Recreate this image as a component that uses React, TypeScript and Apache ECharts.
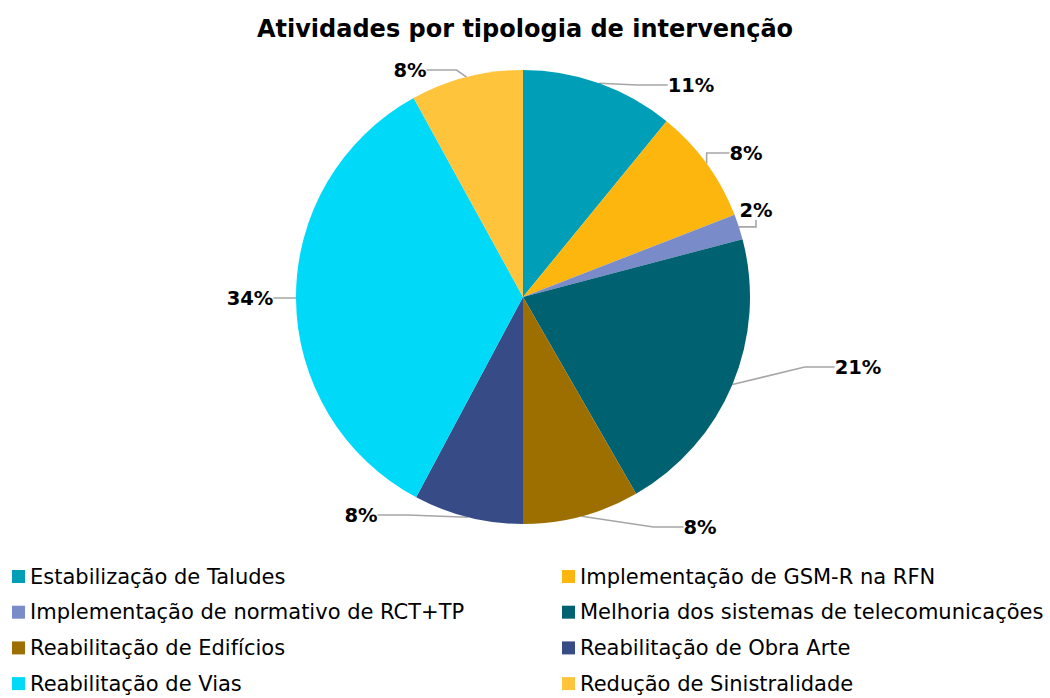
import React, { useEffect, useRef } from "react";
import * as echarts from "echarts";

const categories = [
  "Estabilização de Taludes",
  "Implementação de GSM-R na RFN",
  "Implementação de normativo de RCT+TP",
  "Melhoria dos sistemas de telecomunicações",
  "Reabilitação de Edifícios",
  "Reabilitação de Obra Arte",
  "Reabilitação de Vias",
  "Redução de Sinistralidade",
];
const values = [10.9, 8.2, 1.8, 20.8, 8.3, 7.8, 34.2, 8.0];
const colors = ["#009FB7", "#FDB60D", "#7A8BC9", "#006170", "#9C6F00", "#374C86", "#00D9F7", "#FDC43C"];
// label centres (layout only)
const labelPos: [number, number][] = [
  [691, 85], [746, 153], [756, 210], [858, 367], [700, 527], [361, 515], [250, 298], [410, 70],
];

const FONT = "Tahoma, 'DejaVu Sans', Verdana, sans-serif";

export default function App() {
  const ref = useRef<HTMLDivElement>(null);
  useEffect(() => {
    if (!ref.current) return;
    const chart = echarts.init(ref.current, null, { renderer: "svg" });
    const data = categories.map((name, i) => ({ name, value: values[i], itemStyle: { color: colors[i] } }));
    const legendBase = {
      orient: "vertical",
      top: 566,
      height: 132,
      padding: 0,
      itemWidth: 13,
      itemHeight: 13,
      itemGap: 14.7,
      icon: "rect",
      textStyle: { fontFamily: FONT, fontSize: 21, color: "#000" },
      selectedMode: false,
    };
    chart.setOption({
      animation: false,
      backgroundColor: "#ffffff",
      title: {
        text: "Atividades por tipologia de intervenção",
        left: "center",
        top: 12,
        textStyle: { fontFamily: FONT, fontSize: 24, fontWeight: "bold", color: "#000" },
      },
      legend: [
        { ...legendBase, left: 12, data: [categories[0], categories[2], categories[4], categories[6]] },
        { ...legendBase, left: 562, data: [categories[1], categories[3], categories[5], categories[7]] },
      ],
      series: [
        {
          type: "pie",
          center: [523, 297],
          radius: 227,
          startAngle: 90,
          clockwise: true,
          data,
          label: {
            show: true,
            position: "outside",
            formatter: (p: any) => Math.round(p.percent) + "%",
            fontFamily: FONT,
            fontSize: 19.5,
            fontWeight: "bold",
            color: "#000",
            padding: [0, 4],
          },
          labelLine: {
            show: true,
            length: 18,
            length2: 30,
            lineStyle: { color: "#A6A6A6", width: 1.6 },
          },
          labelLayout: (p: any) => {
            const pos = labelPos[p.dataIndex];
            return { x: pos[0], y: pos[1], align: "center", verticalAlign: "middle" };
          },
          emphasis: { disabled: true },
        },
      ],
    });
    return () => chart.dispose();
  }, []);
  return <div ref={ref} style={{ position: "fixed", left: 0, top: 0, width: 1050, height: 698 }} />;
}
